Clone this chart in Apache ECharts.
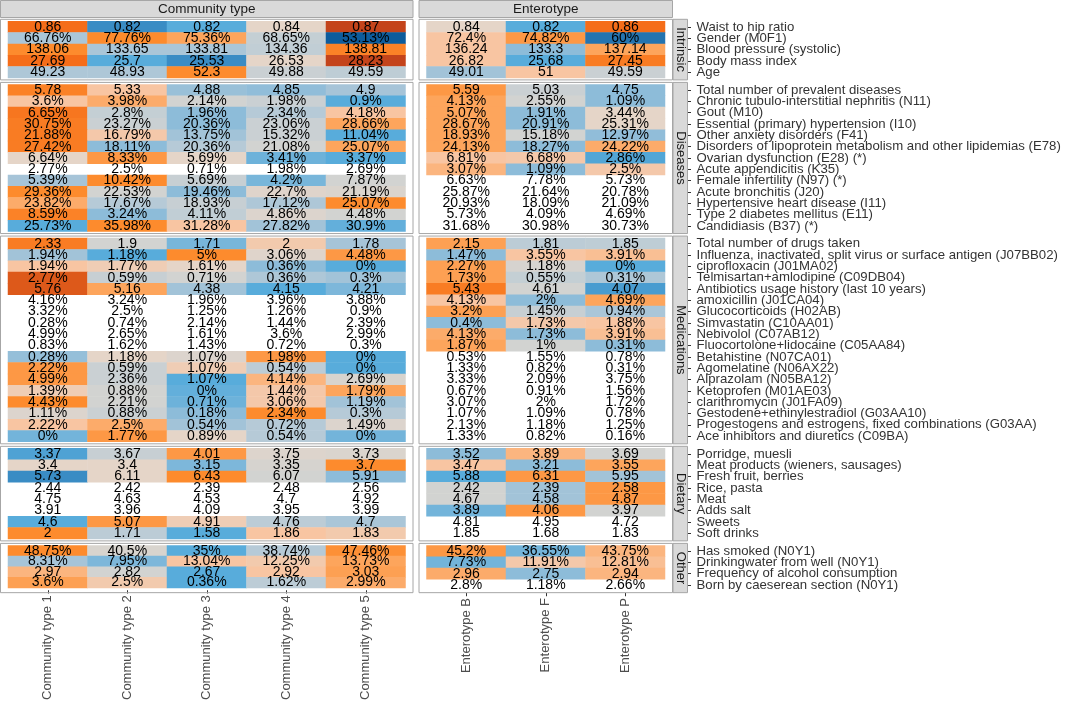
<!DOCTYPE html>
<html><head><meta charset="utf-8">
<script src="https://cdn.jsdelivr.net/npm/echarts@6/dist/echarts.min.js"></script>
<style>html,body{margin:0;padding:0;background:#fff}#c{width:1065px;height:703px}</style>
</head><body><div id="c"></div>
<script>
const communityTypes = ['Community type 1','Community type 2','Community type 3','Community type 4','Community type 5'];
const enterotypes = ['Enterotype B','Enterotype F','Enterotype P'];

const intrinsicRows = ['Waist to hip ratio','Gender (M0F1)','Blood pressure (systolic)','Body mass index','Age'];
const intrinsicPercent = [false,true,false,false,false];
const intrinsicCommunity = [[0.86,0.82,0.82,0.84,0.87],[66.76,77.76,75.36,68.65,53.13],[138.06,133.65,133.81,134.36,138.81],[27.69,25.7,25.53,26.53,28.23],[49.23,48.93,52.3,49.88,49.59]];
const intrinsicCommunityFill = [[5,-4,-3,1,6],[-1.3,4,3,-0.5,-5],[4,-1.3,-1.3,-0.6,4.3],[5,-3,-4,1,6],[-1.2,-1.2,4,-0.3,-0.7]];
const intrinsicEnterotype = [[0.84,0.82,0.86],[72.4,74.82,60],[136.24,133.3,137.14],[26.82,25.68,27.45],[49.01,51,49.59]];
const intrinsicEnterotypeFill = [[1,-3,5],[2,3.5,-4.5],[2,-2,3],[2,-3,4.5],[-1.5,2,-0.3]];

const diseaseRows = ['Total number of prevalent diseases','Chronic tubulo-interstitial nephritis (N11)','Gout (M10)','Essential (primary) hypertension (I10)','Other anxiety disorders (F41)','Disorders of lipoprotein metabolism and other lipidemias (E78)','Ovarian dysfunction (E28) (*)','Acute appendicitis (K35)','Female infertility (N97) (*)','Acute bronchitis (J20)','Hypertensive heart disease (I11)','Type 2 diabetes mellitus (E11)','Candidiasis (B37) (*)'];
const diseasePercent = [false,true,true,true,true,true,true,true,true,true,true,true,true];
const diseaseCommunity = [[5.78,5.33,4.88,4.85,4.9],[3.6,3.98,2.14,1.98,0.9],[6.65,2.8,1.96,2.34,4.18],[30.75,23.27,20.36,23.06,28.66],[21.88,16.79,13.75,15.32,11.04],[27.42,18.11,20.36,21.08,25.07],[6.64,8.33,5.69,3.41,3.37],[2.77,2.5,0.71,1.98,2.69],[5.39,10.42,5.69,4.2,7.87],[29.36,22.53,19.46,22.7,21.19],[23.82,17.67,18.93,17.12,25.07],[8.59,3.24,4.11,4.86,4.48],[25.73,35.98,31.28,27.82,30.9]];
const diseaseCommunityFill = [[4.3,2,-1.7,-1.9,-1.4],[2,2.8,0,-0.3,-3],[4.7,-0.5,-2,-1,2],[4.5,-0.3,-2,-0.3,3],[4.5,1.8,-1.5,-0.3,-3],[4.5,-2,-1,0,3],[1,3.5,1,-2.6,-3],null,[-1.4,4,-0.4,-2.4,0],[4,0,-2,0.7,0.4],[2.8,-1,-0.4,-1.2,4],[4.3,-2,-0.6,0.5,0],[-3,4,2,-1.5,-2.8]];
const diseaseEnterotype = [[5.59,5.03,4.75],[4.13,2.55,1.09],[5.07,1.91,3.44],[28.67,20.91,25.31],[18.93,15.18,12.97],[24.13,18.27,24.22],[6.81,6.68,2.86],[3.07,1.09,2.5],[6.63,7.78,5.73],[25.87,21.64,20.78],[20.93,18.09,21.09],[5.73,4.09,4.69],[31.68,30.98,30.73]];
const diseaseEnterotypeFill = [[3.5,-0.3,-2],[3,0,-2],[3,-2,1],[3,-2,1],[3,0,-1.9],[3,-2,2.8],[2,1.8,-3.2],[2.5,-2,1.8],null,null,null,null,null];

const medRows = ['Total number of drugs taken','Influenza, inactivated, split virus or surface antigen (J07BB02)','ciprofloxacin (J01MA02)','Telmisartan+amlodipine (C09DB04)','Antibiotics usage history (last 10 years)','amoxicillin (J01CA04)','Glucocorticoids (H02AB)','Simvastatin (C10AA01)','Nebivolol (C07AB12)','Fluocortolone+lidocaine (C05AA84)','Betahistine (N07CA01)','Agomelatine (N06AX22)','Alprazolam (N05BA12)','Ketoprofen (M01AE03)','clarithromycin (J01FA09)','Gestodene+ethinylestradiol (G03AA10)','Progestogens and estrogens, fixed combinations (G03AA)','Ace inhibitors and diuretics (C09BA)'];
const medPercent = [false,true,true,true,false,true,true,true,true,true,true,true,true,true,true,true,true,true];
const medCommunity = [[2.33,1.9,1.71,2,1.78],[1.94,1.18,5,3.06,4.48],[1.94,1.77,1.61,0.36,0],[2.77,0.59,0.71,0.36,0.3],[5.76,5.16,4.38,4.15,4.21],[4.16,3.24,1.96,3.96,3.88],[3.32,2.5,1.25,1.26,0.9],[0.28,0.74,2.14,1.44,2.39],[4.99,2.65,1.61,3.6,2.99],[0.83,1.62,1.43,0.72,0.3],[0.28,1.18,1.07,1.98,0],[2.22,0.59,1.07,0.54,0],[4.99,2.36,1.07,4.14,2.69],[1.39,0.88,0,1.44,1.79],[4.43,2.21,0.71,3.06,1.19],[1.11,0.88,0.18,2.34,0.3],[2.22,2.5,0.54,0.72,1.49],[0,1.77,0.89,0.54,0]];
const medCommunityFill = [[4.5,0,-2.4,1.7,-1.4],[-1.5,-3,4,0.7,3.5],[2,1.5,1,-2,-3],[5.5,-0.4,0,-1.2,-1.5],[5.5,3,-1.5,-3,-2.3],null,null,null,null,null,[-1.8,1,0.5,3.5,-3],[3.5,-0.3,1.5,-0.8,-3],[3.5,-0.3,-3,2.5,0.3],[1.5,0,-2.8,1.8,3],[4,0,-2.6,1.8,-1.5],[0.5,-0.3,-2,4,-1],[2,2.8,-1.5,-1,0.5],[-2.5,3.5,1,-1,-2.5]];
const medEnterotype = [[2.15,1.81,1.85],[1.47,3.55,3.91],[2.27,1.18,0],[1.73,0.55,0.31],[5.43,4.61,4.07],[4.13,2,4.69],[3.2,1.45,0.94],[0.4,1.73,1.88],[4.13,1.73,3.91],[1.87,1,0.31],[0.53,1.55,0.78],[1.33,0.82,0.31],[3.33,2.09,3.75],[0.67,0.91,1.56],[3.07,2,1.72],[1.07,1.09,0.78],[2.13,1.18,1.25],[1.33,0.82,0.16]];
const medEnterotypeFill = [[3.2,-0.8,-0.7],[-2,2,2.2],[3.2,0.2,-3],[3.2,-0.5,-1.2],[4.5,0,-3.5],[2,-2,3],[3.2,-0.4,-1.3],[-2,1.8,2],[2.8,-2,2.2],[3,0,-2],null,null,null,null,null,null,null,null];

const dietRows = ['Porridge, muesli','Meat products (wieners, sausages)','Fresh fruit, berries','Rice, pasta','Meat','Adds salt','Sweets','Soft drinks'];
const dietPercent = [false,false,false,false,false,false,false,false];
const dietCommunity = [[3.37,3.67,4.01,3.75,3.73],[3.4,3.4,3.15,3.35,3.7],[5.73,6.11,6.43,6.07,5.91],[2.44,2.42,2.39,2.48,2.56],[4.75,4.63,4.53,4.7,4.92],[3.91,3.96,4.09,3.95,3.99],[4.6,5.07,4.91,4.76,4.7],[2,1.71,1.58,1.86,1.83]];
const dietCommunityFill = [[-3.3,-0.4,3.5,0.6,0.4],[1,1,-2.3,0.2,4],[-4,1,4,0,-2],null,null,null,[-3,3.5,1.5,-0.8,-1.3],[4,-0.8,-3,2,1.7]];
const dietEnterotype = [[3.52,3.89,3.69],[3.47,3.21,3.55],[5.88,6.31,5.95],[2.42,2.39,2.58],[4.67,4.58,4.87],[3.89,4.06,3.97],[4.81,4.95,4.72],[1.85,1.68,1.83]];
const dietEnterotypeFill = [[-2,2.5,0],[2,-2,3],[-3,3.5,-1.5],[0,-1.5,3.5],[0,-1.5,3.5],[-2.5,3.5,0],null,null];

const otherRows = ['Has smoked (N0Y1)','Drinkingwater from well (N0Y1)','Frequency of alcohol consumption','Born by caeserean section (N0Y1)'];
const otherPercent = [true,true,false,true];
const otherCommunity = [[48.75,40.5,35,38.74,47.46],[8.31,7.95,13.04,12.25,13.73],[2.97,2.82,2.67,2.92,3.03],[3.6,2.5,0.36,1.62,2.99]];
const otherCommunityFill = [[4,0.3,-3,-1,3.8],[-1.4,-2.3,2,1.7,3],[2.5,0,-3,2,3.2],[3.2,1.7,-3,-0.8,2.8]];
const otherEnterotype = [[45.2,36.55,43.75],[7.73,11.91,12.81],[2.96,2.75,2.94],[2.8,1.18,2.66]];
const otherEnterotypeFill = [[3.5,-2.5,2.5],[-2.5,1.8,2.2],[2.8,-2,2.5],null];

const groupNames = ['Intrinsic','Diseases','Medications','Dietary','Other'];
const panelTitles = ['Community type','Enterotype'];

const groups = [
  {rows: intrinsicRows, pct: intrinsicPercent, vals: [intrinsicCommunity, intrinsicEnterotype], fills: [intrinsicCommunityFill, intrinsicEnterotypeFill]},
  {rows: diseaseRows, pct: diseasePercent, vals: [diseaseCommunity, diseaseEnterotype], fills: [diseaseCommunityFill, diseaseEnterotypeFill]},
  {rows: medRows, pct: medPercent, vals: [medCommunity, medEnterotype], fills: [medCommunityFill, medEnterotypeFill]},
  {rows: dietRows, pct: dietPercent, vals: [dietCommunity, dietEnterotype], fills: [dietCommunityFill, dietEnterotypeFill]},
  {rows: otherRows, pct: otherPercent, vals: [otherCommunity, otherEnterotype], fills: [otherCommunityFill, otherEnterotypeFill]}
];

// layout
const FONT = 'Liberation Sans, Arial, Helvetica, sans-serif';
const ROW_H = 11.32, GAP = 6.5, TOP0 = 21.3, PAD_X = 7.5, PAD_Y = 2;
const panels = [{left: 8, width: 397.5, cols: communityTypes}, {left: 426.5, width: 238.5, cols: enterotypes}];
const STRIP_X = 673, STRIP_W = 14.5;

const grids = [], xAxes = [], yAxes = [], series = [], graphics = [], colouredSeries = [];
const cellLabel = {show: true, formatter: (pp) => pp.name, color: '#000', fontSize: 14, fontFamily: FONT};
let yCur = TOP0;
groups.forEach((g, gi) => {
  const h = g.rows.length * ROW_H;
  const top = yCur;
  panels.forEach((p, pi) => {
    const idx = gi * 2 + pi;
    grids.push({left: p.left, top: top, width: p.width, height: h, containLabel: false});
    const isBottom = gi === groups.length - 1;
    xAxes.push({
      type: 'category', gridIndex: idx, data: p.cols, position: 'bottom', show: isBottom,
      offset: 2.3,
      axisLine: {show: false},
      axisTick: {show: true, alignWithLabel: true, interval: 0, length: 3.3, lineStyle: {color: '#333', width: 1}},
      axisLabel: {rotate: 90, interval: 0, margin: 5, fontSize: 13, color: '#4d4d4d', fontFamily: FONT},
      splitLine: {show: false}
    });
    const right = pi === 1;
    yAxes.push({
      type: 'category', gridIndex: idx, data: g.rows, inverse: true, position: 'right', show: right,
      offset: 23,
      axisLine: {show: false},
      axisTick: {show: true, alignWithLabel: true, interval: 0, length: 3, lineStyle: {color: '#333', width: 1}},
      axisLabel: {margin: 8.5, interval: 0, fontSize: 13.2, color: '#333', fontFamily: FONT},
      splitLine: {show: false}
    });
    const coloured = [], plain = [];
    g.rows.forEach((rn, ri) => {
      const fr = g.fills[pi][ri];
      p.cols.forEach((cn, ci) => {
        const v = g.vals[pi][ri][ci];
        const txt = String(v) + (g.pct[ri] ? '%' : '');
        if (fr == null) plain.push({name: txt, value: [ci, ri, 0]});
        else coloured.push({name: txt, value: [ci, ri, fr[ci]]});
      });
    });
    colouredSeries.push(series.length);
    series.push({
      type: 'heatmap', xAxisIndex: idx, yAxisIndex: idx, data: coloured,
      label: cellLabel, emphasis: {disabled: true}, itemStyle: {borderWidth: 0}
    });
    series.push({
      type: 'heatmap', xAxisIndex: idx, yAxisIndex: idx, data: plain,
      label: cellLabel, emphasis: {disabled: true}, itemStyle: {color: 'rgba(255,255,255,0)', borderWidth: 0}
    });
    // panel border
    graphics.push({type: 'rect', z: 10, silent: true,
      shape: {x: p.left - PAD_X, y: top - PAD_Y, width: p.width + 2 * PAD_X, height: h + 2 * PAD_Y},
      style: {fill: 'none', stroke: '#a6a6a6', lineWidth: 1}});
  });
  // right strip
  graphics.push({type: 'rect', z: 10, silent: true,
    shape: {x: STRIP_X, y: top - PAD_Y, width: STRIP_W, height: h + 2 * PAD_Y},
    style: {fill: '#d9d9d9', stroke: '#a6a6a6', lineWidth: 1}});
  graphics.push({type: 'text', z: 11, silent: true, x: STRIP_X + STRIP_W / 2, y: top + h / 2, rotation: -Math.PI / 2,
    style: {text: groupNames[gi], align: 'center', verticalAlign: 'middle', fontSize: 13, fill: '#1a1a1a', fontFamily: FONT}});
  yCur += h + GAP;
});
// top strips
panels.forEach((p, pi) => {
  const x0 = p.left - PAD_X, w = p.width + 2 * PAD_X;
  graphics.push({type: 'rect', z: 10, silent: true, shape: {x: x0, y: 0.5, width: w, height: 17},
    style: {fill: '#d9d9d9', stroke: '#a6a6a6', lineWidth: 1}});
  graphics.push({type: 'text', z: 11, silent: true, x: x0 + w / 2, y: 9.5,
    style: {text: panelTitles[pi], align: 'center', verticalAlign: 'middle', fontSize: 13.5, fill: '#1a1a1a', fontFamily: FONT}});
});

const chart = echarts.init(document.getElementById('c'), null, {renderer: 'canvas'});
chart.setOption({
  animation: false,
  backgroundColor: '#ffffff',
  grid: grids, xAxis: xAxes, yAxis: yAxes, series: series,
  visualMap: {
    type: 'continuous', show: false, min: -5, max: 6, dimension: 2,
    seriesIndex: colouredSeries,
    inRange: {color: ['#0d5c9c','#3a8cc4','#58acdb','#8dbcd9','#b6cad7','#d2d3d1','#e5d5c8','#f8c5a2','#fda55c','#fd8b2d','#f56d19','#c4441b']}
  },
  graphic: graphics
});
</script></body></html>
